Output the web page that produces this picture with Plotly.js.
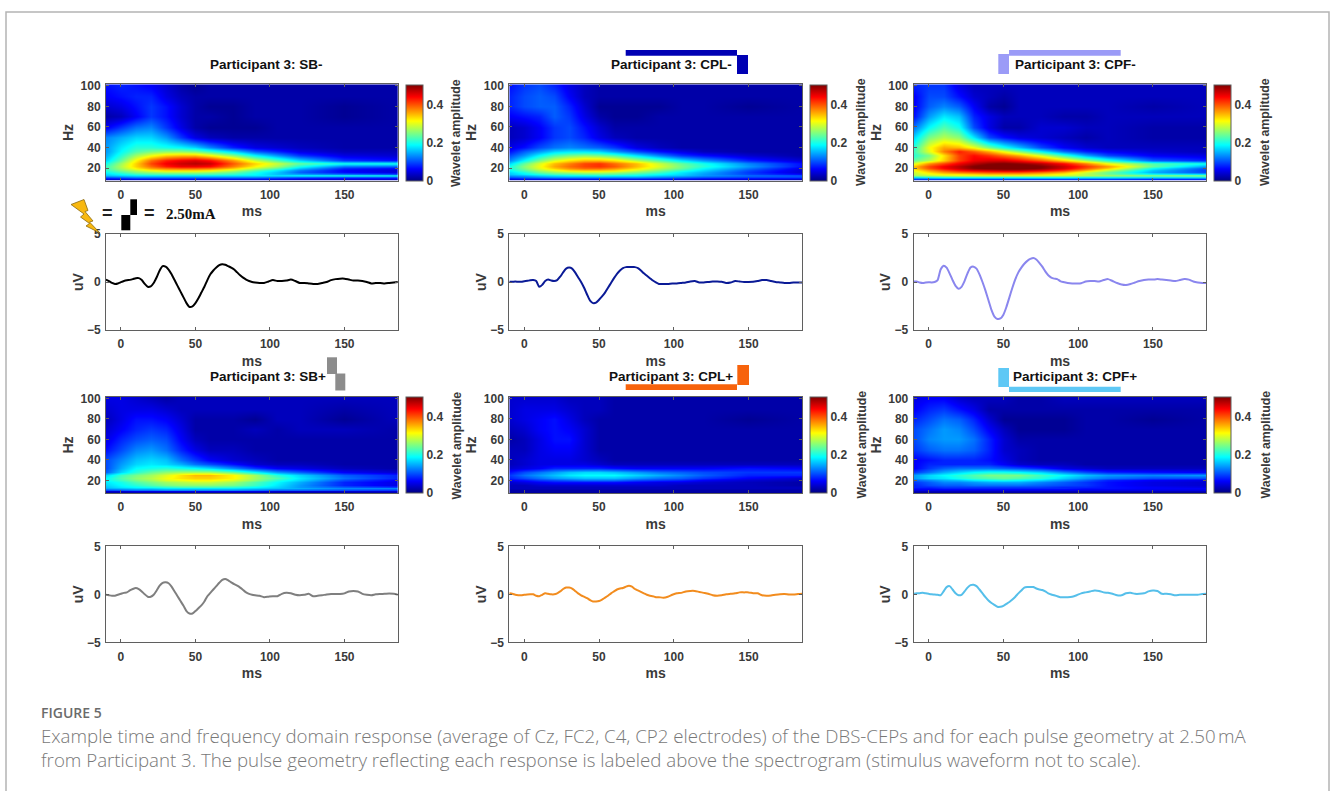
<!DOCTYPE html>
<html><head><meta charset="utf-8">
<script src="https://cdn.plot.ly/plotly-3.0.1.min.js"></script>
<style>html,body{margin:0;padding:0;background:#fff}#chart{width:1330px;height:791px}</style>
</head><body><div id="chart"></div>
<script>
// ---------- data ----------
const specTimeMs = [-10,0,10,20,30,40,50,60,75,90,105,120,150,186];
const specFreqHz = [8,9.5,11,12.5,14,16,18,20,22,25,28,32,36,40,50,60,70,80,90,100];
const specSBminus = [
[.01,.01,.01,.01,.01,.01,.01,.01,.01,.01,.01,.01,.01,.01],
[.04,.04,.05,.05,.05,.05,.05,.05,.05,.05,.05,.04,.04,.04],
[.10,.11,.12,.12,.12,.12,.12,.12,.12,.12,.11,.10,.09,.09],
[.16,.17,.18,.18,.18,.18,.18,.18,.18,.18,.18,.19,.20,.20],
[.17,.19,.21,.22,.22,.22,.22,.22,.21,.19,.16,.15,.13,.11],
[.19,.22,.25,.26,.27,.27,.27,.26,.24,.20,.16,.11,.07,.05],
[.21,.25,.28,.31,.33,.33,.33,.32,.28,.23,.18,.12,.06,.04],
[.22,.27,.32,.36,.38,.39,.39,.38,.34,.28,.23,.16,.08,.06],
[.22,.28,.34,.39,.43,.45,.45,.44,.38,.32,.27,.20,.12,.11],
[.20,.27,.34,.41,.45,.47,.48,.47,.40,.34,.29,.24,.20,.20],
[.17,.24,.32,.39,.43,.45,.46,.44,.37,.29,.23,.17,.09,.07],
[.15,.21,.27,.31,.34,.35,.35,.32,.26,.19,.14,.09,.05,.04],
[.14,.19,.23,.25,.26,.26,.25,.22,.17,.11,.08,.05,.03,.03],
[.14,.18,.21,.21,.20,.19,.17,.13,.08,.05,.04,.03,.02,.02],
[.13,.15,.17,.17,.14,.09,.05,.03,.02,.02,.02,.02,.02,.02],
[.06,.09,.12,.13,.09,.05,.02,.01,.01,.01,.02,.02,.02,.02],
[.02,.03,.06,.09,.07,.04,.02,.02,.01,.02,.02,.02,.01,.02],
[.04,.05,.07,.09,.07,.04,.02,.01,.01,.02,.02,.02,.01,.02],
[.06,.07,.08,.08,.05,.03,.02,.02,.02,.02,.02,.02,.02,.02],
[.07,.08,.07,.06,.04,.02,.01,.02,.02,.02,.02,.02,.02,.02]];
const specCPLminus = [
[.01,.01,.01,.01,.01,.01,.01,.01,.01,.01,.01,.01,.01,.01],
[.04,.05,.05,.05,.05,.05,.05,.05,.05,.05,.05,.04,.04,.03],
[.10,.11,.12,.13,.13,.13,.13,.13,.13,.12,.11,.10,.09,.09],
[.14,.15,.17,.18,.19,.19,.20,.19,.19,.17,.16,.14,.12,.11],
[.16,.18,.20,.22,.22,.23,.23,.23,.21,.19,.17,.14,.10,.07],
[.17,.20,.24,.26,.27,.28,.28,.27,.25,.22,.18,.15,.09,.04],
[.19,.23,.27,.30,.33,.34,.34,.33,.29,.25,.21,.17,.10,.04],
[.20,.25,.30,.34,.37,.39,.39,.37,.33,.28,.24,.19,.12,.05],
[.20,.26,.31,.36,.39,.41,.42,.40,.35,.30,.25,.21,.14,.07],
[.17,.24,.30,.35,.38,.41,.42,.39,.35,.29,.24,.20,.13,.07],
[.13,.19,.25,.30,.33,.35,.35,.33,.28,.23,.18,.14,.08,.04],
[.10,.14,.19,.23,.25,.26,.25,.23,.18,.13,.09,.07,.04,.02],
[.07,.11,.14,.17,.18,.18,.17,.14,.10,.07,.05,.03,.02,.02],
[.05,.07,.10,.12,.13,.12,.11,.09,.05,.03,.02,.02,.02,.02],
[.03,.04,.06,.09,.10,.08,.05,.03,.02,.02,.02,.02,.02,.02],
[.03,.04,.06,.09,.10,.07,.04,.02,.02,.02,.02,.02,.02,.02],
[.06,.07,.08,.11,.09,.05,.02,.01,.01,.02,.02,.02,.02,.02],
[.08,.10,.11,.11,.08,.04,.01,.01,.01,.01,.02,.02,.01,.02],
[.08,.10,.11,.10,.06,.03,.02,.02,.02,.02,.02,.02,.02,.02],
[.07,.09,.10,.08,.05,.03,.02,.02,.02,.02,.02,.02,.02,.02]];
const specCPFminus = [
[.02,.02,.02,.02,.02,.02,.02,.02,.02,.02,.02,.02,.02,.02],
[.08,.08,.08,.08,.08,.08,.08,.08,.08,.08,.08,.08,.07,.07],
[.17,.18,.19,.19,.19,.19,.19,.19,.19,.19,.18,.18,.17,.17],
[.27,.28,.29,.30,.30,.30,.30,.30,.30,.29,.28,.27,.26,.26],
[.28,.30,.32,.32,.33,.34,.34,.34,.33,.31,.28,.25,.21,.19],
[.29,.33,.36,.38,.39,.40,.40,.40,.38,.35,.29,.24,.15,.10],
[.31,.36,.40,.43,.45,.46,.47,.47,.45,.41,.35,.28,.16,.09],
[.34,.40,.44,.47,.50,.51,.52,.52,.50,.46,.40,.34,.19,.10],
[.35,.41,.45,.48,.51,.53,.54,.54,.51,.47,.42,.37,.24,.14],
[.30,.37,.41,.45,.48,.50,.51,.50,.48,.44,.38,.31,.23,.20],
[.24,.28,.34,.41,.45,.46,.46,.44,.40,.34,.27,.21,.11,.08],
[.21,.25,.33,.41,.44,.42,.39,.36,.30,.22,.15,.10,.06,.05],
[.22,.30,.38,.43,.40,.36,.31,.26,.19,.12,.08,.06,.04,.03],
[.21,.31,.36,.35,.31,.25,.20,.16,.10,.06,.04,.03,.03,.03],
[.17,.25,.28,.26,.18,.10,.07,.05,.04,.03,.02,.03,.02,.02],
[.12,.19,.23,.20,.10,.05,.02,.02,.04,.04,.03,.03,.02,.02],
[.07,.14,.18,.16,.08,.05,.03,.03,.03,.02,.02,.03,.03,.03],
[.06,.11,.13,.11,.06,.02,.01,.03,.03,.03,.03,.03,.02,.03],
[.06,.10,.10,.07,.04,.03,.02,.03,.03,.03,.03,.03,.03,.03],
[.08,.09,.09,.05,.03,.03,.03,.03,.03,.03,.03,.03,.03,.03]];
const specSBplus = [
[.01,.01,.01,.01,.01,.01,.01,.01,.01,.01,.01,.01,.01,.01],
[.04,.04,.05,.05,.05,.05,.05,.05,.05,.05,.04,.04,.04,.04],
[.10,.11,.12,.12,.13,.13,.13,.13,.13,.12,.11,.11,.10,.09],
[.15,.16,.17,.17,.18,.18,.18,.18,.18,.17,.16,.15,.13,.13],
[.16,.18,.19,.20,.21,.22,.22,.22,.21,.19,.17,.14,.11,.09],
[.17,.19,.21,.23,.25,.26,.26,.26,.25,.22,.18,.14,.08,.05],
[.18,.20,.23,.25,.27,.28,.29,.29,.27,.23,.19,.15,.08,.05],
[.19,.22,.25,.27,.30,.31,.32,.32,.30,.26,.21,.17,.10,.06],
[.19,.23,.26,.28,.31,.33,.34,.34,.32,.27,.23,.18,.12,.08],
[.17,.22,.25,.27,.30,.33,.35,.35,.32,.27,.21,.17,.11,.08],
[.11,.17,.21,.24,.26,.27,.27,.27,.24,.19,.14,.11,.06,.04],
[.10,.15,.19,.20,.21,.20,.19,.17,.13,.09,.06,.05,.03,.02],
[.10,.14,.17,.18,.17,.15,.12,.10,.07,.04,.03,.03,.02,.02],
[.10,.13,.16,.17,.16,.12,.09,.06,.04,.03,.02,.02,.02,.02],
[.07,.10,.13,.14,.12,.08,.05,.03,.03,.02,.02,.02,.02,.02],
[.05,.08,.10,.11,.10,.06,.03,.02,.02,.02,.02,.02,.02,.02],
[.04,.06,.08,.09,.08,.05,.02,.02,.02,.03,.02,.03,.03,.02],
[.03,.05,.07,.07,.06,.04,.02,.02,.02,.01,.03,.03,.01,.03],
[.04,.05,.05,.05,.04,.03,.03,.03,.03,.03,.03,.03,.02,.03],
[.05,.05,.04,.03,.02,.03,.03,.03,.03,.03,.03,.03,.03,.03]];
const specCPLplus = [
[.01,.01,.01,.01,.01,.01,.01,.01,.01,.01,.01,.01,.01,.01],
[.02,.02,.02,.02,.02,.02,.02,.02,.02,.02,.02,.02,.02,.02],
[.02,.02,.02,.02,.02,.02,.02,.02,.02,.02,.02,.02,.02,.02],
[.03,.03,.03,.03,.03,.03,.03,.03,.03,.03,.03,.03,.03,.03],
[.03,.03,.03,.03,.03,.03,.03,.03,.03,.03,.03,.03,.03,.03],
[.03,.03,.04,.04,.04,.04,.04,.04,.04,.04,.03,.03,.03,.02],
[.04,.05,.06,.07,.07,.07,.07,.07,.06,.05,.05,.04,.03,.02],
[.06,.07,.09,.10,.11,.12,.12,.12,.10,.09,.08,.06,.04,.03],
[.08,.10,.12,.14,.15,.16,.16,.16,.14,.12,.11,.09,.06,.04],
[.09,.12,.14,.16,.18,.19,.19,.19,.17,.15,.13,.11,.08,.08],
[.07,.10,.12,.14,.16,.17,.17,.16,.14,.12,.11,.10,.09,.09],
[.04,.05,.06,.08,.08,.08,.08,.07,.06,.06,.06,.06,.07,.06],
[.03,.04,.05,.05,.05,.05,.04,.03,.03,.03,.03,.03,.03,.03],
[.03,.04,.05,.05,.05,.04,.03,.02,.02,.02,.02,.02,.02,.02],
[.03,.03,.05,.06,.06,.04,.02,.02,.02,.02,.02,.02,.02,.02],
[.02,.03,.05,.07,.07,.04,.02,.02,.02,.02,.02,.02,.02,.02],
[.03,.04,.06,.07,.06,.04,.02,.02,.02,.02,.02,.02,.02,.02],
[.04,.05,.06,.07,.05,.03,.02,.02,.02,.02,.02,.02,.01,.02],
[.04,.05,.05,.05,.04,.03,.03,.02,.02,.02,.02,.02,.02,.02],
[.04,.04,.04,.04,.03,.03,.03,.02,.02,.02,.02,.02,.02,.02]];
const specCPFplus = [
[.01,.01,.01,.01,.01,.01,.01,.01,.01,.01,.01,.01,.01,.01],
[.03,.03,.03,.03,.03,.03,.03,.03,.03,.03,.03,.03,.03,.03],
[.05,.05,.05,.05,.05,.05,.05,.05,.05,.05,.05,.05,.05,.05],
[.07,.07,.08,.08,.08,.08,.08,.08,.08,.08,.07,.07,.06,.06],
[.08,.08,.09,.09,.09,.09,.09,.09,.09,.08,.08,.07,.06,.05],
[.08,.10,.11,.11,.12,.12,.12,.12,.11,.10,.09,.07,.05,.04],
[.09,.11,.13,.13,.14,.15,.15,.15,.13,.11,.09,.07,.05,.04],
[.11,.13,.15,.16,.18,.19,.20,.19,.17,.14,.11,.08,.06,.05],
[.14,.17,.18,.20,.22,.23,.24,.23,.21,.17,.14,.12,.10,.10],
[.14,.17,.19,.21,.23,.25,.25,.25,.22,.19,.16,.14,.13,.14],
[.09,.12,.15,.17,.19,.20,.20,.19,.17,.13,.10,.08,.07,.06],
[.06,.09,.11,.12,.12,.12,.11,.10,.08,.05,.04,.03,.03,.03],
[.06,.08,.08,.08,.08,.08,.06,.04,.03,.03,.02,.02,.02,.02],
[.06,.07,.08,.08,.08,.07,.05,.03,.02,.02,.02,.02,.02,.02],
[.09,.11,.12,.12,.11,.08,.04,.03,.02,.02,.02,.02,.02,.02],
[.10,.13,.14,.14,.12,.08,.04,.02,.02,.02,.02,.02,.02,.02],
[.10,.12,.14,.13,.10,.06,.03,.01,.01,.01,.02,.02,.02,.02],
[.08,.10,.12,.11,.08,.04,.01,.01,.01,.01,.02,.02,.01,.02],
[.06,.08,.09,.07,.05,.02,.02,.02,.02,.02,.02,.02,.02,.02],
[.05,.06,.06,.04,.03,.03,.03,.02,.02,.03,.03,.03,.03,.03]];

const waveTimeMs = [-10,-8,-6,-4,-2,0,2,4,6,8,10,12,14,16,18,20,22,24,26,28,30,32,34,36,38,40,42,44,46,48,
50,52,54,56,58,60,62,64,66,68,70,72,74,76,78,80,82,84,86,88,90,
93,96,99,102,105,108,111,114,117,120,123,126,129,132,135,138,141,144,147,150,153,156,159,162,165,168,171,174,177,180,183,186];
const waveSBminus = [.25,.1,-.1,-.2,-.15,-.02,.1,.18,.22,.3,.4,.4,.2,-.2,-.5,-.45,-.1,.5,1.2,1.65,1.6,1.3,.8,.2,-.4,-1.0,-1.6,-2.2,-2.6,-2.55,
-2.2,-1.7,-1.1,-.5,.2,.8,1.2,1.5,1.75,1.85,1.8,1.65,1.5,1.3,1.0,.7,.45,.25,.1,0,-.05,
-.1,-.1,.05,.2,.1,.1,.15,.25,.1,-.1,-.1,-.15,-.2,-.2,-.1,0,.2,.3,.35,.35,.25,.15,.15,.1,0,-.15,-.1,-.1,-.15,-.1,-.05,0];
const waveCPLminus = [.02,.02,.05,.02,.02,.08,.12,.18,.2,.1,-.5,-.3,.1,.25,.15,.1,.2,.55,1.0,1.4,1.5,1.4,1.0,.5,0,-.6,-1.3,-1.95,-2.2,-2.15,
-1.85,-1.5,-1.1,-.6,-.1,.4,.85,1.2,1.45,1.55,1.55,1.55,1.55,1.45,1.2,.9,.65,.4,.15,-.05,-.2,
-.2,-.2,-.15,-.15,-.1,-.05,.05,.1,-.05,-.05,0,.05,.05,.02,-.1,-.05,.1,.05,0,0,.02,.1,.2,.2,.1,0,-.05,-.1,-.1,-.05,-.05,-.05];
const waveCPFminus = [.05,.05,-.05,-.1,-.05,-.02,-.05,0,.2,1.3,1.7,1.5,.9,.2,-.4,-.7,-.5,.1,.9,1.5,1.6,1.4,.8,0,-.9,-1.9,-2.9,-3.6,-3.85,-3.8,
-3.4,-2.6,-1.6,-.6,.3,1.0,1.5,1.9,2.2,2.4,2.5,2.35,2.0,1.6,1.1,.7,.45,.35,.3,.1,0,
-.1,-.15,-.15,-.12,.05,.1,.1,.05,.2,.3,.1,-.1,-.25,-.3,-.2,-.05,.1,.2,.25,.25,.3,.25,.2,.15,.1,.2,.3,.25,.05,-.05,-.1,-.1];
const waveSBplus = [-.05,-.1,-.15,-.15,-.05,.05,.15,.2,.4,.55,.65,.55,.3,0,-.25,-.25,-.05,.4,.9,1.2,1.25,1.15,.8,.3,-.2,-.7,-1.2,-1.75,-2.0,-2.0,
-1.75,-1.45,-1.15,-.75,-.2,.15,.5,.85,1.2,1.5,1.6,1.45,1.25,1.05,.9,.7,.45,.2,.05,-.05,-.1,
-.15,-.3,-.25,-.2,-.2,.05,.15,.1,-.05,-.1,-.05,.05,-.2,-.15,-.1,-.02,.03,.03,.03,.1,.3,.35,.3,.05,-.05,-.1,0,.03,.05,.08,.05,-.05];
const waveCPLplus = [.1,.05,-.05,-.1,-.1,-.05,-.02,0,0,-.15,-.2,-.05,.1,.05,0,0,.1,.3,.55,.7,.7,.6,.35,.1,-.1,-.25,-.4,-.6,-.75,-.75,
-.7,-.55,-.35,-.15,.1,.3,.5,.6,.65,.8,.9,.8,.55,.4,.25,.1,-.05,-.15,-.2,-.3,-.3,
-.35,-.25,-.05,.1,.15,.3,.35,.35,.25,.15,.05,-.1,-.15,-.1,0,.05,.1,.2,.2,.2,.12,.1,-.1,-.15,-.12,-.05,0,.02,-.02,-.02,.02,.05];
const waveCPFplus = [.05,.1,.12,.15,.1,.05,0,-.02,-.05,-.1,.3,.75,.85,.5,.1,-.1,-.05,.3,.7,.95,1.0,.85,.5,.1,-.3,-.65,-.9,-1.1,-1.3,-1.3,
-1.2,-1.0,-.8,-.55,-.25,.1,.4,.7,.75,.75,.75,.6,.5,.45,.3,.1,-.02,-.1,-.2,-.3,-.3,
-.3,-.25,-.1,.1,.2,.3,.4,.35,.2,.15,.05,-.1,-.1,.1,.15,.05,.05,.1,.3,.4,.35,.05,.05,0,-.1,-.05,-.05,-.05,-.05,-.05,.03,.05];

const panelTitles = ['Participant 3: SB-','Participant 3: CPL-','Participant 3: CPF-','Participant 3: SB+','Participant 3: CPL+','Participant 3: CPF+'];
const spectra = [specSBminus,specCPLminus,specCPFminus,specSBplus,specCPLplus,specCPFplus];
const waves = [waveSBminus,waveCPLminus,waveCPFminus,waveSBplus,waveCPLplus,waveCPFplus];
const waveColors = ['#000000','#0a1a96','#8a86ee','#7f7f7f','#f28c1e','#55bfea'];
const captionHead = 'FIGURE 5';
const captionLines = ['Example time and frequency domain response (average of Cz, FC2, C4, CP2 electrodes) of the DBS-CEPs and for each pulse geometry at 2.50\u202FmA',
 'from Participant 3. The pulse geometry reflecting each response is labeled above the spectrogram (stimulus waveform not to scale).'];
const timeTicks = [0,50,100,150];
const hzTicks = [20,40,60,80,100];
const uvTicks = [-5,0,5];
const ampTicks = [0,0.2,0.4];

// ---------- layout (pixels) ----------
const W=1330,H=791;
const fx=x=>x/W, fy=y=>1-y/H;
const colLeft=[106,509.3,913.7], colRight=[397.7,802,1206.3], cbLeft=[405.7,810,1214.3], cbTitleX=[456.5,861.5,1265.5];
const rows=[{s:[84.3,180.7],w:[234,330]},{s:[397,493],w:[546.3,642.3]}];
const titleCx=[266.5,671,1075,267.5,670.5,1075], titleY=[64.3,376.7];
const jet=[[0,'#000080'],[.125,'#0000ff'],[.375,'#00ffff'],[.625,'#ffff00'],[.875,'#ff0000'],[1,'#800000']];
const sans='Liberation Sans, Arial, sans-serif';
const inkFont={family:sans,size:12,color:'#3a3a3a',weight:'bold'};
const axisTitleFont={family:sans,size:14,color:'#3a3a3a',weight:'bold'};
const titleFont={family:sans,size:13.5,color:'#111',weight:'bold'};
const cbTitleFont={family:sans,size:12.3,color:'#3a3a3a',weight:'bold'};

const traces=[], annotations=[], shapes=[];
const layout={width:W,height:H,margin:{l:0,r:0,t:0,b:0},paper_bgcolor:'#fff',plot_bgcolor:'#fff',showlegend:false,annotations,shapes};

function axisBase(){return {showgrid:false,zeroline:false,showline:true,mirror:'ticks',linecolor:'#5f5f5f',linewidth:1,
  ticks:'inside',ticklen:3,tickcolor:'#5f5f5f',tickfont:inkFont,fixedrange:true};}

let ax=1;
for(let i=0;i<6;i++){
  const c=i%3,rowIdx=Math.floor(i/3),r=rows[rowIdx];
  // spectrogram
  const xa=ax,ya=ax; ax++;
  layout['xaxis'+xa]=Object.assign(axisBase(),{domain:[fx(colLeft[c]),fx(colRight[c])],anchor:'y'+ya,range:[-10,185.7],
    tickmode:'array',tickvals:timeTicks,ticklabelstandoff:3,title:{text:'ms',font:axisTitleFont,standoff:5}});
  layout['yaxis'+ya]=Object.assign(axisBase(),{domain:[fy(r.s[1]),fy(r.s[0])],anchor:'x'+xa,range:[7.7,101.4],
    tickmode:'array',tickvals:hzTicks,ticklabelstandoff:2,title:{text:'Hz',font:axisTitleFont,standoff:3}});
  traces.push({type:'heatmap',x:specTimeMs,y:specFreqHz,z:spectra[i],zsmooth:'best',zmin:0,zmax:.507,colorscale:jet,
    xaxis:'x'+xa,yaxis:'y'+ya,hoverinfo:'skip',
    colorbar:{x:fx(cbLeft[c]),xanchor:'left',xpad:0,ypad:0,thickness:17,thicknessmode:'pixels',len:r.s[1]-r.s[0],lenmode:'pixels',
      y:fy(r.s[1]),yanchor:'bottom',outlinecolor:'#5f5f5f',outlinewidth:1,ticks:'',tickmode:'array',tickvals:ampTicks,
      tickfont:inkFont}});
  annotations.push({xref:'paper',yref:'paper',x:fx(cbTitleX[c]),y:fy((r.s[0]+r.s[1])/2),xanchor:'center',yanchor:'middle',textangle:-90,
    text:'Wavelet amplitude',showarrow:false,font:cbTitleFont});
  // waveform
  const xb=ax,yb=ax; ax++;
  layout['xaxis'+xb]=Object.assign(axisBase(),{domain:[fx(colLeft[c]),fx(colRight[c])],anchor:'y'+yb,range:[-10,185.7],
    tickmode:'array',tickvals:timeTicks,ticklabelstandoff:3,title:{text:'ms',font:axisTitleFont,standoff:5}});
  layout['yaxis'+yb]=Object.assign(axisBase(),{domain:[fy(r.w[1]),fy(r.w[0])],anchor:'x'+xb,range:[-5,5],
    tickmode:'array',tickvals:uvTicks,ticklabelstandoff:2,title:{text:'uV',font:axisTitleFont,standoff:0}});
  traces.push({type:'scatter',mode:'lines',x:waveTimeMs,y:waves[i],xaxis:'x'+xb,yaxis:'y'+yb,
    line:{color:waveColors[i],width:2,shape:'spline',smoothing:.6},hoverinfo:'skip'});
  annotations.push({xref:'paper',yref:'paper',x:fx(titleCx[i]),y:fy(titleY[rowIdx]),xanchor:'center',yanchor:'middle',
    text:panelTitles[i],showarrow:false,font:titleFont});
}

// card outline
const px=(x,y)=>fx(x)+','+fy(y);
shapes.push({type:'path',xref:'paper',yref:'paper',path:'M'+px(6,791)+' L'+px(6,12)+' L'+px(1329,12)+' L'+px(1329,791),line:{color:'#b4b4b4',width:1.5},fillcolor:'rgba(0,0,0,0)'});
// stimulus waveform glyphs
function block(x0,y0,x1,y1,col){shapes.push({type:'rect',xref:'paper',yref:'paper',x0:fx(x0),x1:fx(x1),y0:fy(y0),y1:fy(y1),fillcolor:col,line:{width:0},layer:'above'});}
block(130.3,199.3,137,215,'#000');block(121.3,215,130.3,230.3,'#000');
block(625.7,50,737,55.7,'#0000b3');block(737,55,748,74,'#0000b3');
block(998.3,54,1009,74,'#9b9bf7');block(1009,50,1120.7,55.7,'#9b9bf7');
block(327,357.3,337,374,'#8c8c8c');block(335.3,373.5,345.3,390.5,'#8c8c8c');
block(737.3,365,749,385,'#f7630c');block(625.7,384.3,737,390,'#f7630c');
block(998.3,368,1009,387,'#5ec8f5');block(1009,386.7,1120.7,392,'#5ec8f5');
// lightning bolt
const bolt=[[71,204.5],[84,199.5],[88,210.5],[85,211.5],[93,221],[89.5,222],[100,233],[86,226],[89.5,223.5],[80.5,217],[84,214]];
shapes.push({type:'path',xref:'paper',yref:'paper',layer:'above',path:'M'+bolt.map(p=>px(p[0],p[1])).join(' L')+' Z',fillcolor:'#f8b810',line:{color:'#8a6a10',width:.8}});
// glyph legend text
const serif={family:'Liberation Serif, Times New Roman, serif',size:15,color:'#111',weight:'bold'};
[[107.7,'='],[149,'=']].forEach(a=>annotations.push({xref:'paper',yref:'paper',x:fx(a[0]),y:fy(213),xanchor:'center',yanchor:'middle',text:a[1],showarrow:false,font:{family:sans,size:18,color:'#222',weight:'bold'}}));
annotations.push({xref:'paper',yref:'paper',x:fx(164),y:fy(214),xanchor:'left',yanchor:'middle',text:'2.50mA',showarrow:false,font:serif});
// caption
annotations.push({xref:'paper',yref:'paper',x:fx(39),y:fy(712),xanchor:'left',yanchor:'middle',text:captionHead,showarrow:false,font:{family:'Open Sans, sans-serif',size:14,color:'#6b6b6b',weight:600}});
captionLines.forEach((t,i)=>annotations.push({xref:'paper',yref:'paper',x:fx(39),y:fy(735+24*i),xanchor:'left',yanchor:'middle',text:t,showarrow:false,font:{family:'Open Sans, sans-serif',size:18.7,color:'#787878',weight:300}}));

Plotly.newPlot('chart',traces,layout,{displayModeBar:false,staticPlot:true});
</script></body></html>
